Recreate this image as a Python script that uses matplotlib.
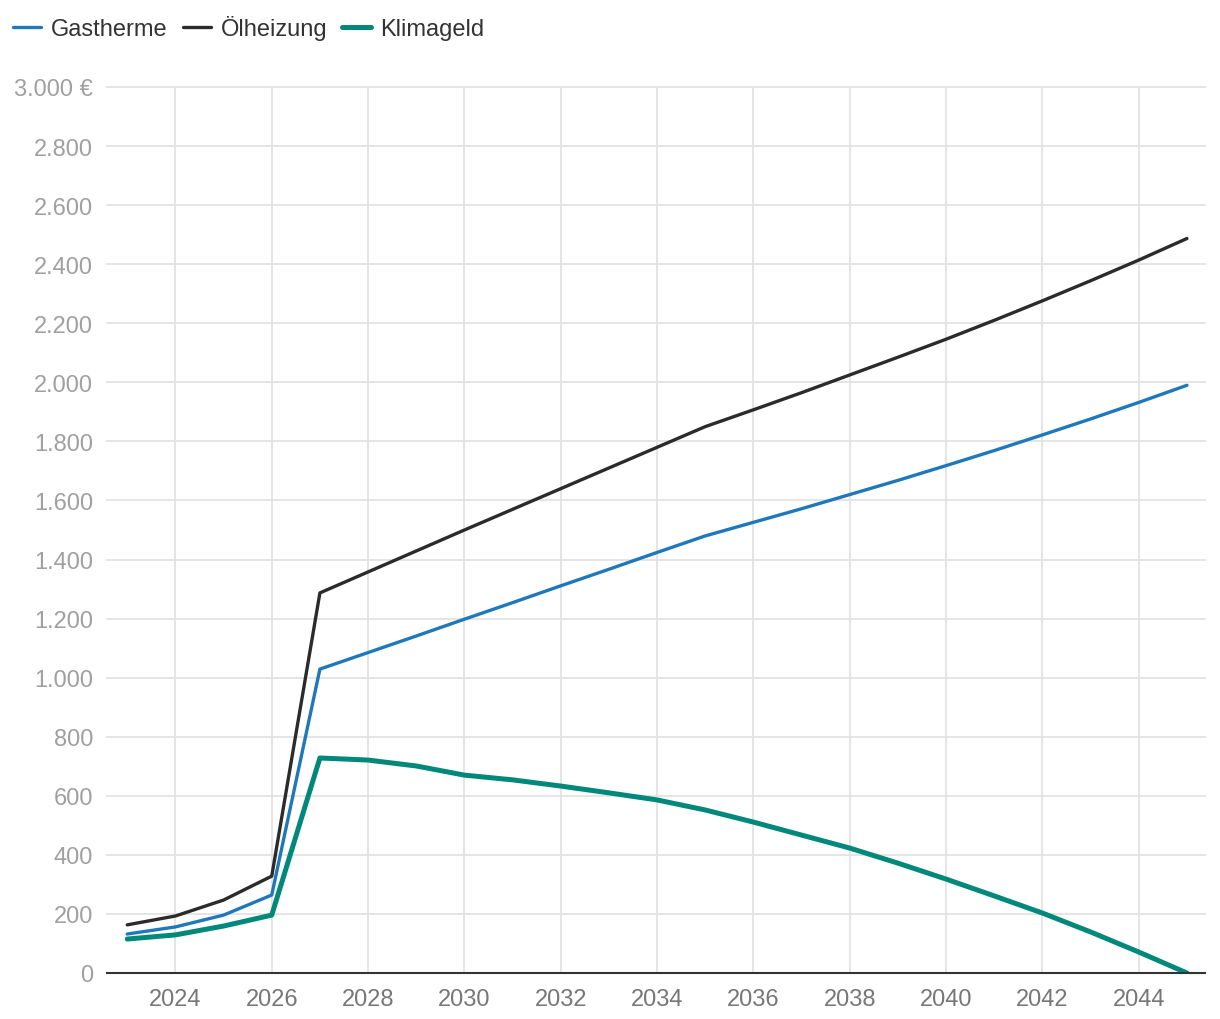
import matplotlib.pyplot as plt
from matplotlib.ticker import FuncFormatter

years = list(range(2023, 2046))
gastherme = [132, 156, 196, 264, 1029, 1085, 1141, 1198, 1254, 1311, 1367, 1424,
             1480, 1526, 1572, 1620, 1668, 1718, 1769, 1822, 1876, 1932, 1990]
oelheizung = [163, 193, 247, 328, 1287, 1358, 1429, 1500, 1570, 1640, 1710, 1780,
              1850, 1907, 1965, 2025, 2085, 2146, 2210, 2276, 2344, 2414, 2487]
klimageld = [115, 129, 159, 196, 728, 721, 701, 670, 654, 633, 610, 586,
             552, 511, 467, 423, 372, 318, 261, 203, 139, 71, 0]

plt.rcParams['font.family'] = ['Liberation Sans', 'DejaVu Sans']

fig = plt.figure(figsize=(12.2, 10.2), dpi=100)
ax = fig.add_axes([107 / 1220, 46 / 1020, 1098 / 1220, 886 / 1020])

ax.plot(years, gastherme, color='#1f78b9', lw=2.4, label='Gastherme', solid_capstyle='round')
ax.plot(years, oelheizung, color='#2b2b2b', lw=2.4, label='Ölheizung', solid_capstyle='round')
ax.plot(years, klimageld, color='#00897b', lw=3.6, label='Klimageld', solid_capstyle='round')

ax.set_xlim(2022.58, 2045.375)
ax.set_ylim(0, 3000)
ax.set_xticks(range(2024, 2045, 2))
ax.set_yticks(range(0, 3001, 200))


def fmt(v, pos):
    s = f'{int(v):,}'.replace(',', '.')
    return s + ' €' if v == 3000 else s


ax.yaxis.set_major_formatter(FuncFormatter(fmt))
ax.grid(True, color='#e3e3e3', lw=1.3)
ax.set_axisbelow(True)
for s in ['top', 'right', 'left']:
    ax.spines[s].set_visible(False)
ax.spines['bottom'].set_color('#333333')
ax.spines['bottom'].set_linewidth(1.5)
ax.tick_params(axis='y', length=0, pad=10, labelsize=17, labelcolor='#a0a0a0')
ax.tick_params(axis='x', length=0, pad=11, labelsize=17, labelcolor='#777777')
for gl in ax.get_ygridlines():
    gl.set_clip_on(False)

fig.legend(loc='upper left', bbox_to_anchor=(0.0, 0.997), ncol=3, frameon=False,
           fontsize=17, handlelength=1.2, handletextpad=0.4, columnspacing=0.65,
           labelcolor='#333333', borderaxespad=0.15)

fig.savefig('out.png', dpi=100)
